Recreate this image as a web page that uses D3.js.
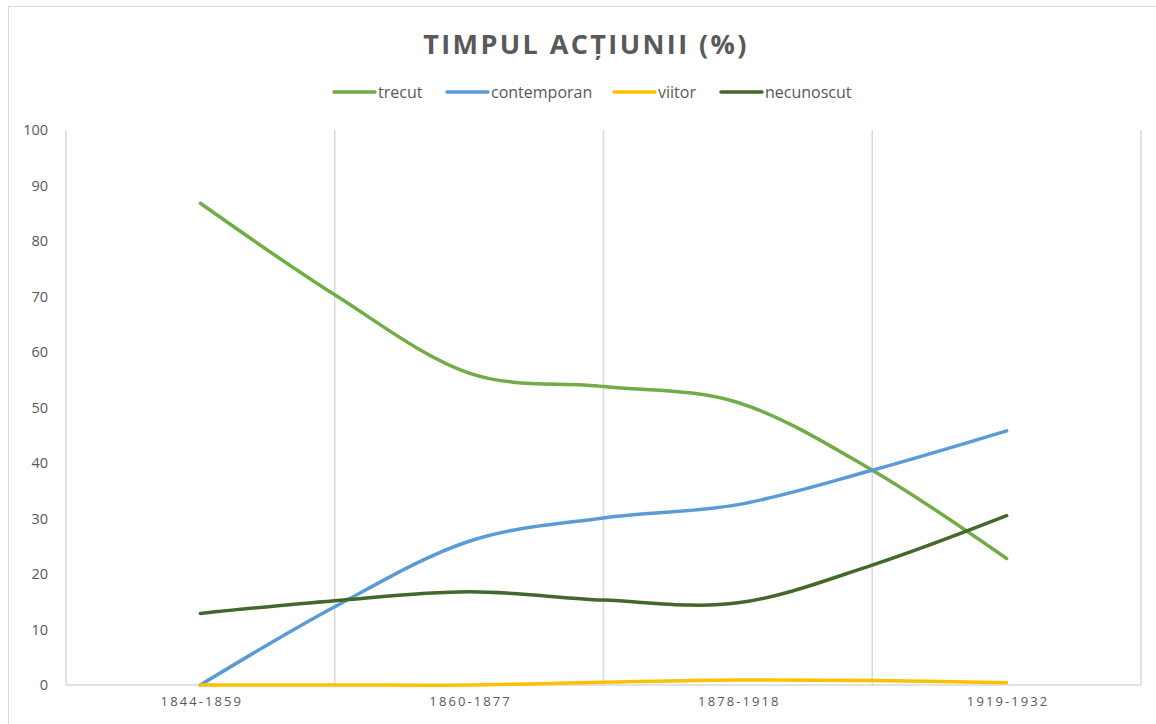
<!DOCTYPE html>
<html>
<head>
<meta charset="utf-8">
<script src="https://cdn.jsdelivr.net/npm/d3@7/dist/d3.min.js"></script>
<style>
  html, body { margin: 0; padding: 0; background: #fff; }
  svg { display: block; }
  text { font-family: "Open Sans", "Liberation Sans", sans-serif; fill: #595959; }
</style>
</head>
<body>
<svg id="chart" width="1156" height="724"></svg>
<script>
// ---- data ----
const title = "TIMPUL ACȚIUNII (%)";
const slots = [0, 1, 2, 3, 4, 5, 6];            // data positions along the category axis
const slotLabels = ["1844-1859", "", "1860-1877", "", "1878-1918", "", "1919-1932"];
const seriesNames = ["trecut", "contemporan", "viitor", "necunoscut"];
const seriesColors = ["#70AD47", "#5B9BD5", "#FFC000", "#43682B"];
const trecut      = [86.8, 70.3, 56.2, 53.8, 50.9, 38.7, 22.8];
const contemporan = [0, 14.1, 25.9, 30.1, 32.5, 38.7, 45.8];
const viitor      = [0, 0, 0, 0.5, 0.9, 0.8, 0.4];
const necunoscut  = [12.9, 15.2, 16.8, 15.3, 14.8, 21.6, 30.5];
const yTicks = [0, 10, 20, 30, 40, 50, 60, 70, 80, 90, 100];
const gridSlots = [1, 3, 5];

const seriesValues = [trecut, contemporan, viitor, necunoscut];

// ---- layout ----
const svg = d3.select("#chart");
const pLeft = 66, pRight = 1141, pTop = 130, pBottom = 685;

// outer chart frame
svg.append("rect").attr("x", 8.5).attr("y", 6.5).attr("width", 1170).attr("height", 740)
  .attr("fill", "none").attr("stroke", "#D9D9D9").attr("stroke-width", 1);

const x = d3.scalePoint().domain(slots).range([pLeft, pRight]).padding(1);
const y = d3.scaleLinear().domain([0, 100]).range([pBottom, pTop]);

// vertical gridlines
svg.append("g").selectAll("line").data(gridSlots).join("line")
  .attr("x1", d => x(d)).attr("x2", d => x(d))
  .attr("y1", pTop).attr("y2", pBottom)
  .attr("stroke", "#D9D9D9").attr("stroke-width", 1.5);

// plot frame: left, right, bottom
svg.append("line").attr("x1", pLeft).attr("x2", pLeft).attr("y1", pTop).attr("y2", pBottom)
  .attr("stroke", "#D9D9D9").attr("stroke-width", 1.5);
svg.append("line").attr("x1", pRight).attr("x2", pRight).attr("y1", pTop).attr("y2", pBottom)
  .attr("stroke", "#D9D9D9").attr("stroke-width", 1.5);
svg.append("line").attr("x1", pLeft).attr("x2", pRight).attr("y1", pBottom).attr("y2", pBottom)
  .attr("stroke", "#D9D9D9").attr("stroke-width", 1.5);

// y axis labels
const yAxis = d3.axisLeft(y).tickValues(yTicks).tickSize(0).tickPadding(18);
const gy = svg.append("g").attr("transform", `translate(${pLeft},0)`).call(yAxis);
gy.select(".domain").remove();
gy.selectAll("text").style("font-size", "14.5px").attr("fill", "#595959")
  .style("font-family", "'Open Sans', sans-serif");

// x axis labels
const xAxis = d3.axisBottom(x).tickFormat(d => slotLabels[d]).tickSize(0).tickPadding(12);
const gx = svg.append("g").attr("transform", `translate(0,${pBottom})`).call(xAxis);
gx.select(".domain").remove();
gx.selectAll("text").style("font-size", "13px").style("letter-spacing", "2.1px")
  .attr("dx", "1px")
  .attr("fill", "#595959").style("font-family", "'Open Sans', sans-serif");

// lines
const line = d3.line().x((d, i) => x(slots[i])).y(d => y(d)).curve(d3.curveCardinal.tension(0));
svg.append("g").selectAll("path").data(seriesValues).join("path")
  .attr("d", d => line(d))
  .attr("fill", "none")
  .attr("stroke", (d, i) => seriesColors[i])
  .attr("stroke-width", 3.5)
  .attr("stroke-linecap", "round")
  .attr("stroke-linejoin", "round");

// title
svg.append("text").attr("x", 586).attr("y", 54).attr("text-anchor", "middle")
  .style("font-size", "27px").style("font-weight", "bold").style("letter-spacing", "2.4px")
  .text(title);

// legend
const legendX = [334, 447, 614, 721];
const lg = svg.append("g").selectAll("g").data(seriesNames).join("g")
  .attr("transform", (d, i) => `translate(${legendX[i]},92)`);
lg.append("line").attr("x1", 0).attr("x2", 41).attr("y1", 0).attr("y2", 0)
  .attr("stroke", (d, i) => seriesColors[i]).attr("stroke-width", 3.5).attr("stroke-linecap", "round");
lg.append("text").attr("x", 44).attr("y", 5.5).style("font-size", "16px").text(d => d);
</script>
</body>
</html>
